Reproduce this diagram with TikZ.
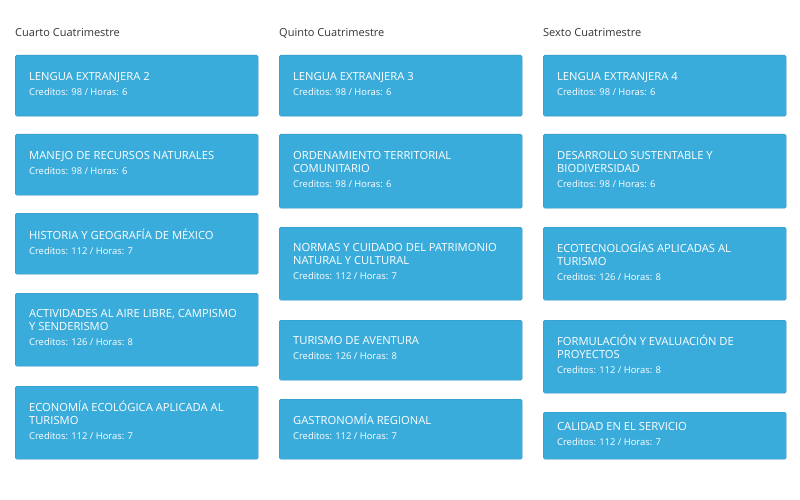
\documentclass[tikz,border=0pt]{standalone}
\usepackage{fontspec}
\setmainfont{Open Sans}
\usetikzlibrary{positioning}
\definecolor{cardblue}{HTML}{3AACDB}
\definecolor{headgray}{HTML}{333333}
\tikzset{
  card/.style={anchor=north west,fill=cardblue,draw=cardblue!85!black,line width=0.3pt,
    rounded corners=1.5pt,text=white,minimum width=243pt,text width=215pt,
    inner xsep=14pt,align=flush left,font=\fontsize{11.2}{13}\selectfont},
  head/.style={anchor=west,text=headgray,font=\fontsize{11}{13}\selectfont,inner sep=0pt}
}
\newcommand{\cred}[1]{\\[2pt]{\fontsize{9.4}{11}\selectfont #1}\par\vspace*{4pt}}
\begin{document}
\begin{tikzpicture}[x=1pt,y=-1pt]
    \useasboundingbox (0,0) rectangle (800,500);
    \node[head] (h4) at (15,33) {Cuarto Cuatrimestre};
    \node[head] (h5) at (279,33) {Quinto Cuatrimestre};
    \node[head] (h6) at (543,33) {Sexto Cuatrimestre};
    % cuarto
    \node[card,minimum height=61pt] (c41) at (15,55) {LENGUA EXTRANJERA 2\cred{Creditos: 98 / Horas: 6}};
    \node[card,minimum height=61pt] (c42) at (15,134) {MANEJO DE RECURSOS NATURALES\cred{Creditos: 98 / Horas: 6}};
    \node[card,minimum height=61pt] (c43) at (15,213) {HISTORIA Y GEOGRAFÍA DE MÉXICO\cred{Creditos: 112 / Horas: 7}};
    \node[card,minimum height=73pt] (c44) at (15,293) {ACTIVIDADES AL AIRE LIBRE, CAMPISMO\\Y SENDERISMO\cred{Creditos: 126 / Horas: 8}};
    \node[card,minimum height=73pt] (c45) at (15,386) {ECONOMÍA ECOLÓGICA APLICADA AL\\TURISMO\cred{Creditos: 112 / Horas: 7}};
    % quinto
    \node[card,minimum height=61pt] (c51) at (279,55) {LENGUA EXTRANJERA 3\cred{Creditos: 98 / Horas: 6}};
    \node[card,minimum height=74pt] (c52) at (279,134) {ORDENAMIENTO TERRITORIAL\\COMUNITARIO\cred{Creditos: 98 / Horas: 6}};
    \node[card,minimum height=73pt] (c53) at (279,227) {NORMAS Y CUIDADO DEL PATRIMONIO\\NATURAL Y CULTURAL\cred{Creditos: 112 / Horas: 7}};
    \node[card,minimum height=60pt] (c54) at (279,320) {TURISMO DE AVENTURA\cred{Creditos: 126 / Horas: 8}};
    \node[card,minimum height=60pt] (c55) at (279,399) {GASTRONOMÍA REGIONAL\cred{Creditos: 112 / Horas: 7}};
    % sexto
    \node[card,minimum height=61pt] (c61) at (543,55) {LENGUA EXTRANJERA 4\cred{Creditos: 98 / Horas: 6}};
    \node[card,minimum height=74pt] (c62) at (543,134) {DESARROLLO SUSTENTABLE Y\\BIODIVERSIDAD\cred{Creditos: 98 / Horas: 6}};
    \node[card,minimum height=73pt] (c63) at (543,227) {ECOTECNOLOGÍAS APLICADAS AL\\TURISMO\cred{Creditos: 126 / Horas: 8}};
    \node[card,minimum height=73pt] (c64) at (543,320) {FORMULACIÓN Y EVALUACIÓN DE\\PROYECTOS\cred{Creditos: 112 / Horas: 8}};
    \node[card,minimum height=47pt] (c65) at (543,412) {CALIDAD EN EL SERVICIO\cred{Creditos: 112 / Horas: 7}};
\end{tikzpicture}
\end{document}
